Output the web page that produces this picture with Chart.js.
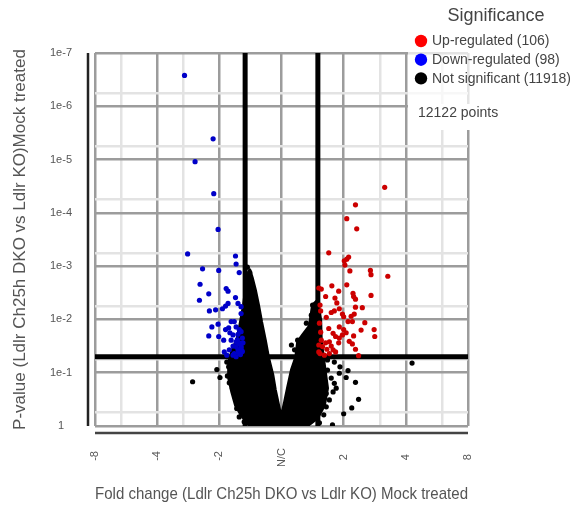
<!DOCTYPE html>
<html>
<head>
<meta charset="utf-8">
<script src="https://cdn.jsdelivr.net/npm/chart.js@4.4.1/dist/chart.umd.min.js"></script>
<style>
  html, body { margin: 0; padding: 0; background: #fff; }
  #wrap { width: 575px; height: 505px; }
</style>
</head>
<body>
<div id="wrap"><canvas id="myChart"></canvas></div>
<script>
// axes: x = log2 fold change, y = -log10 p-value
const xTickValues = [-3, -2, -1, 0, 1, 2, 3];
const xTickLabels = ['-8', '-4', '-2', 'N/C', '2', '4', '8'];
const xMinorFolds = [-6, -3, 3, 6];
const yTickValues = [0, 1, 2, 3, 4, 5, 6, 7];
const yTickLabels = ['1', '1e-1', '1e-2', '1e-3', '1e-4', '1e-5', '1e-6', '1e-7'];
const yMinorValues = [0.25, 1.25, 2.25, 3.25, 4.25, 5.25, 6.25];

const foldThreshold = 1.5;
const pThreshold = 0.05;

const legendLabels = ['Up-regulated (106)', 'Down-regulated (98)', 'Not significant (11918)'];
const legendColors = ['#ff0000', '#0000ff', '#000000'];
const totalLabel = '12122 points';

// up-regulated genes
const upX = [1.66, 1.19, 1.05, 1.21, 0.76, 1.08, 1.05, 1.01, 1.02, 1.10, 1.43, 1.44, 1.71, 0.60, 0.64, 0.81, 1.05, 0.92,
  0.71, 0.86, 1.15, 1.16, 1.19, 1.44, 0.89, 1.19, 1.30, 0.62, 0.63, 0.93, 0.85, 0.80, 0.72, 0.98, 1.00, 1.12, 1.17,
  1.07, 1.14, 1.34, 0.61, 0.93, 0.76, 1.00, 1.28, 1.49, 1.50, 1.16, 1.04, 0.83, 0.87, 0.93, 1.09, 1.14, 1.19, 1.24,
  0.64, 0.71, 0.77, 0.80, 0.66, 0.73, 0.87, 0.62, 0.69, 0.77, 0.83, 0.92, 0.98, 0.63, 0.60, 0.60];
const upY = [4.48, 4.15, 3.89, 3.70, 3.25, 3.17, 3.13, 3.10, 3.02, 2.91, 2.92, 2.84, 2.81, 2.59, 2.57, 2.63, 2.65, 2.53,
  2.43, 2.40, 2.49, 2.43, 2.38, 2.45, 2.31, 2.23, 2.22, 2.27, 2.16, 2.20, 2.16, 2.13, 2.04, 2.10, 2.05, 2.06, 2.10,
  1.96, 1.96, 1.94, 1.93, 1.86, 1.83, 1.81, 1.80, 1.81, 1.68, 1.69, 1.75, 1.74, 1.68, 1.65, 1.59, 1.54, 1.44, 1.32,
  1.61, 1.56, 1.58, 1.50, 1.49, 1.44, 1.39, 1.36, 1.33, 1.36, 1.43, 1.56, 1.71, 1.76, 1.52, 1.39];

// down-regulated genes
const downX = [-1.56, -1.10, -1.39, -1.09, -1.02, -1.51, -0.74, -0.73, -1.27, -1.01, -0.68, -1.31, -0.89, -0.86, -1.17,
  -1.32, -0.74, -0.86, -0.90, -0.95, -1.06, -1.16, -0.70, -0.65, -0.65, -1.02, -1.12, -1.17, -1.01, -0.90, -0.85,
  -0.81, -0.76, -0.73, -0.68, -0.83, -0.78, -0.70, -0.65, -0.81, -0.73, -0.68, -0.62, -0.92, -0.84, -0.76, -0.69,
  -0.88, -0.73, -0.78, -0.65, -0.73, -0.78, -0.70, -0.65, -0.68, -0.93, -0.63, -0.63, -0.66, -0.71];
const downY = [6.58, 5.39, 4.96, 4.36, 3.69, 3.23, 3.19, 3.04, 2.95, 2.92, 2.88, 2.66, 2.58, 2.53, 2.48,
  2.36, 2.41, 2.30, 2.25, 2.20, 2.18, 2.16, 2.30, 2.24, 2.11, 1.91, 1.86, 1.69, 1.68, 1.81, 1.84,
  1.96, 1.96, 1.86, 1.81, 1.75, 1.71, 1.72, 1.77, 1.61, 1.58, 1.56, 1.56, 1.39, 1.43, 1.36, 1.38,
  1.33, 1.49, 1.50, 1.46, 1.30, 1.33, 1.43, 1.49, 1.55, 1.61, 1.65, 1.40, 1.34, 1.62];

// not significant: scattered points outside the dense cloud
const nsX = [-1.43, -1.04, -0.99, -0.88, -0.85, -0.87, -0.84, -0.79, -0.71, -0.72, -0.68, -0.65, -0.60, -0.74, -0.79,
  2.10, 1.19, 1.24, 1.13, 1.00, 0.82, 1.07, 1.04, 0.94, 0.93, 0.85, 0.83, 0.72, 0.72, 0.88, 0.80, 0.74, 0.66, 0.77,
  0.69, 0.74, 0.85, 0.68, 0.61, 0.50, 0.48, 0.40, 0.45, 0.34, 0.21, 0.16, 0.26,
  -0.55, -0.51, -0.50, -0.47, -0.45, -0.42];
const nsY = [0.83, 1.06, 0.91, 1.20, 1.11, 0.94, 0.81, 0.71, 0.47, 0.33, 0.17, 0.30, 0.08, 1.20, 1.09,
  1.18, 0.82, 0.50, 0.34, 0.23, 0.02, 1.04, 0.91, 1.11, 0.99, 0.80, 0.64, 0.61, 0.36, 0.71, 0.90, 1.05, 1.11, 0.49,
  0.86, 1.24, 1.20, 0.21, 0.06, 2.27, 2.08, 1.93, 1.80, 1.52, 1.43, 1.52, 1.61,
  2.98, 2.88, 2.76, 2.61, 2.44, 2.27];

// not significant: outline of the dense V-shaped cloud
const cloudX = [-0.48, -0.64, -0.74, -0.80, -0.85, -0.85, -0.79, -0.71, -0.66, -0.61, -0.58, -0.55, -0.51, -0.47,
  -0.42, -0.37, -0.32, -0.26, -0.21, -0.14, -0.10, -0.03, 0.00, 0.05, 0.10, 0.16, 0.23, 0.26, 0.34, 0.45, 0.50,
  0.58, 0.63, 0.64, 0.69, 0.74, 0.69, 0.58, 0.37];
const cloudY = [-0.04, 0.19, 0.39, 0.64, 0.90, 1.20, 1.43, 1.65, 1.95, 2.27, 2.55, 2.81, 2.93, 2.78,
  2.55, 2.27, 1.95, 1.61, 1.29, 0.96, 0.68, 0.30, 0.19, 0.45, 0.73, 1.05, 1.29, 1.58, 1.71, 1.88, 2.27,
  2.36, 1.99, 1.58, 1.14, 0.71, 0.39, 0.15, -0.04];

const pts = (xs, ys) => xs.map((x, i) => ({ x: x, y: ys[i] }));
const lfc = Math.log2(foldThreshold);
const nlp = -Math.log10(pThreshold);
const xMinorValues = xMinorFolds.map(f => Math.sign(f) * Math.log2(Math.abs(f)));
const xMin = xTickValues[0], xMax = xTickValues[xTickValues.length - 1];
const yMin = yTickValues[0], yMax = yTickValues[yTickValues.length - 1];

const FONT = "'Liberation Sans', Arial, Helvetica, sans-serif";
const isMinor = (list, v) => list.some(m => Math.abs(m - v) < 1e-6);

const extras = {
  id: 'extras',
  beforeDatasetsDraw(chart) {
    const { ctx, chartArea: a } = chart;
    ctx.save();
    ctx.lineWidth = 2.5;
    ctx.strokeStyle = '#222';
    ctx.beginPath();
    ctx.moveTo(a.left - 7, a.top);
    ctx.lineTo(a.left - 7, a.bottom);
    ctx.stroke();
    ctx.strokeStyle = '#444';
    ctx.beginPath();
    ctx.moveTo(a.left, a.bottom + 7);
    ctx.lineTo(a.right, a.bottom + 7);
    ctx.stroke();
    ctx.restore();
  },
  afterDatasetsDraw(chart) {
    const { ctx, chartArea: a } = chart;
    ctx.save();
    // legend backgrounds
    ctx.fillStyle = 'rgba(255,255,255,0.72)';
    ctx.fillRect(a.right - 60, 22, 80, 82);
    ctx.fillStyle = '#fff';
    ctx.fillRect(a.right - 60, 104, 80, 26);
    // legend
    ctx.fillStyle = '#444';
    ctx.font = '18px ' + FONT;
    ctx.textAlign = 'center';
    ctx.textBaseline = 'middle';
    ctx.fillText('Significance', 496, 16);
    ctx.font = '14px ' + FONT;
    ctx.textAlign = 'left';
    legendLabels.forEach((lab, i) => {
      const y = 41 + i * 18.7;
      ctx.fillStyle = legendColors[i];
      ctx.beginPath();
      ctx.arc(421, y, 6.2, 0, Math.PI * 2);
      ctx.fill();
      ctx.fillStyle = '#444';
      ctx.fillText(lab, 432, y + 0.5);
    });
    ctx.fillText(totalLabel, 418, 113);
    ctx.restore();
  }
};

const lineSet = (data, ord) => ({
  type: 'line', data: data, borderColor: '#000', borderWidth: 5, pointRadius: 0,
  fill: false, tension: 0, borderCapStyle: 'butt', order: ord
});

const config = {
  type: 'scatter',
  data: {
    datasets: [
      { data: pts(upX, upY), backgroundColor: '#cc0000', pointRadius: 2.6, borderWidth: 0, order: 0 },
      { data: pts(downX, downY), backgroundColor: '#0000c8', pointRadius: 2.6, borderWidth: 0, order: 1 },
      { data: pts(nsX, nsY), backgroundColor: '#000', pointRadius: 2.6, borderWidth: 0, order: 2 },
      {
        type: 'line', data: pts(cloudX, cloudY), borderColor: '#000', backgroundColor: '#000',
        borderWidth: 3, borderJoinStyle: 'round', pointRadius: 0, fill: 'shape', tension: 0, order: 3
      },
      lineSet([{ x: -lfc, y: yMin }, { x: -lfc, y: yMax }], 4),
      lineSet([{ x: lfc, y: yMin }, { x: lfc, y: yMax }], 4),
      lineSet([{ x: xMin, y: nlp }, { x: xMax, y: nlp }], 4)
    ]
  },
  options: {
    responsive: true,
    maintainAspectRatio: false,
    devicePixelRatio: 1,
    animation: false,
    layout: { padding: { top: 53, right: 107, left: 0, bottom: 0 } },
    plugins: { legend: { display: false }, tooltip: { enabled: false } },
    scales: {
      x: {
        type: 'linear', min: xMin, max: xMax,
        afterFit: s => { s.height = 79; },
        afterBuildTicks: s => { s.ticks = xTickValues.concat(xMinorValues).sort((a, b) => a - b).map(v => ({ value: v })); },
        border: { display: false },
        grid: {
          drawTicks: false, lineWidth: 2.5,
          color: c => isMinor(xMinorValues, c.tick.value) ? '#e3e3e3' : '#9c9c9c'
        },
        ticks: {
          autoSkip: false, minRotation: 90, maxRotation: 90, padding: 22,
          color: '#555', font: { family: FONT, size: 11 },
          callback: v => {
            const i = xTickValues.findIndex(t => Math.abs(t - v) < 1e-6);
            if (i < 0) return '';
            const lab = xTickLabels[i];
            return lab + ' '.repeat(Math.max(0, 3 - lab.length));
          }
        },
        title: {
          display: true, text: 'Fold change (Ldlr Ch25h DKO vs Ldlr KO) Mock treated',
          color: '#555', font: { family: FONT, size: 17 }, padding: { top: 0, bottom: 0 }
        }
      },
      y: {
        type: 'linear', min: yMin, max: yMax,
        afterFit: s => { s.width = 95; },
        afterBuildTicks: s => { s.ticks = yTickValues.concat(yMinorValues).sort((a, b) => a - b).map(v => ({ value: v })); },
        border: { display: false },
        grid: {
          drawTicks: false, lineWidth: 2.5,
          color: c => isMinor(yMinorValues, c.tick.value) ? '#e3e3e3' : '#9c9c9c'
        },
        ticks: {
          autoSkip: false, padding: 23, crossAlign: 'center',
          color: '#555', font: { family: FONT, size: 11 },
          callback: v => {
            const i = yTickValues.findIndex(t => Math.abs(t - v) < 1e-6);
            return i < 0 ? '' : yTickLabels[i];
          }
        },
        title: {
          display: true, text: 'P-value (Ldlr Ch25h DKO vs Ldlr KO)Mock treated',
          color: '#555', font: { family: FONT, size: 17 }, padding: { top: 10, bottom: 0 }
        }
      }
    }
  },
  plugins: [extras]
};

const myChart = new Chart(document.getElementById('myChart'), config);
</script>
</body>
</html>
